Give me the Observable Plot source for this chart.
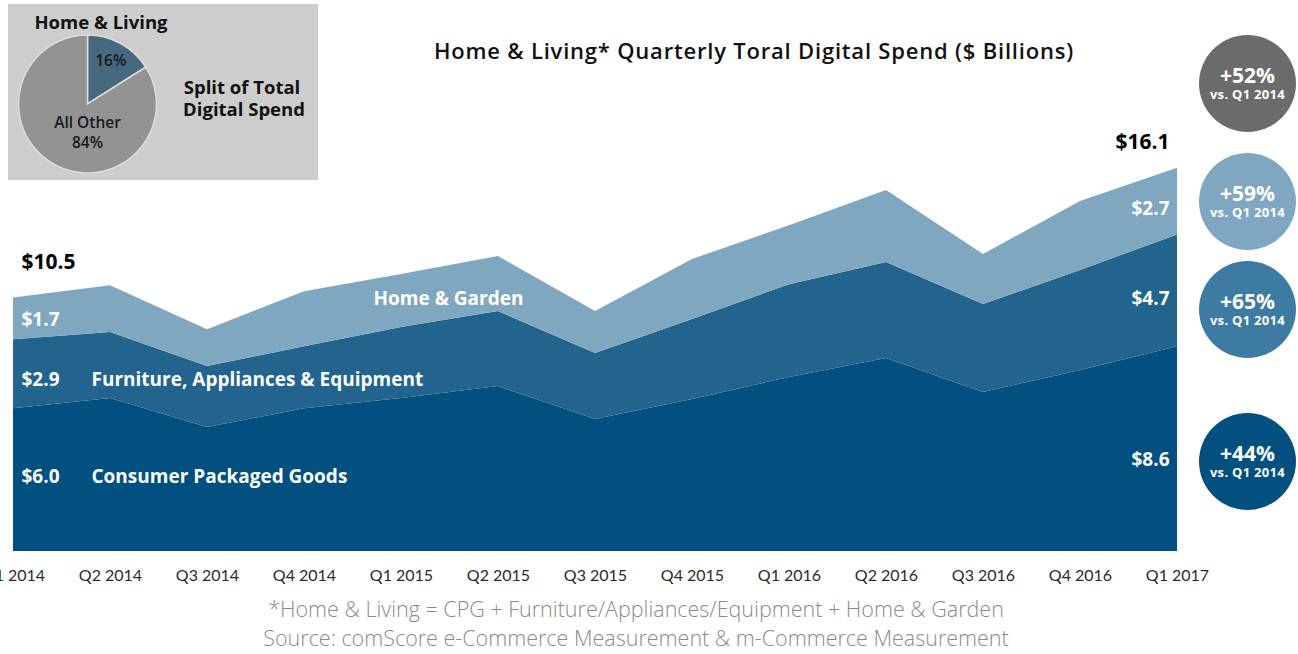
<!DOCTYPE html>
<html>
<head>
<meta charset="utf-8">
<script src="https://cdn.jsdelivr.net/npm/d3@7"></script>
<script src="https://cdn.jsdelivr.net/npm/@observablehq/plot@0.6"></script>
<style>
  body { margin: 0; background: #fff; font-family: Lato, "Open Sans", sans-serif; }
  #wrap { position: relative; width: 1298px; height: 654px; overflow: hidden; }
  #chart { position: absolute; left: 0; top: 0; }
  #inset { position: absolute; left: 8px; top: 4px; width: 310px; height: 176px; background: #cdcdcd; }
  #title { position: absolute; left: 304px; width: 900px; top: 35px; text-align: center;
           font: 600 22px/30px "Open Sans", sans-serif; letter-spacing: 0.8px; color: #111; }
  #foot { position: absolute; left: 186px; width: 900px; top: 594px; text-align: center;
          font: 300 21.5px/29px "Open Sans", sans-serif; color: #8a8a8a; }
  .bubble { position: absolute; width: 97px; height: 97px; border-radius: 50%; color: #fff;
            text-align: center; font-family: "Open Sans", sans-serif; font-weight: 700; }
  .bubble .pct { position: absolute; left: 0; right: 0; top: 30px; font-size: 21px; line-height: 21px; }
  .bubble .vs { position: absolute; left: 0; right: 0; top: 53px; font-size: 13px; line-height: 13px; letter-spacing: 0.3px; }
</style>
</head>
<body>
<div id="wrap">
  <div id="chart"></div>
  <div id="inset"></div>
  <div id="title"></div>
  <div id="foot"></div>
  <div id="bubbles"></div>
</div>
<script>
// ---------- data ----------
const quarters = ["Q1 2014","Q2 2014","Q3 2014","Q4 2014","Q1 2015","Q2 2015","Q3 2015",
                  "Q4 2015","Q1 2016","Q2 2016","Q3 2016","Q4 2016","Q1 2017"];
const series = ["Consumer Packaged Goods", "Furniture, Appliances & Equipment", "Home & Garden"];
const cpg        = [6.0, 6.43, 5.21, 6.0, 6.43, 6.93, 5.55, 6.39, 7.31, 8.11, 6.68, 7.61, 8.6];
const furniture  = [2.9, 2.77, 2.56, 2.6, 2.98, 3.15, 2.77, 3.36, 3.9, 4.03, 3.7, 4.2, 4.7];
const homeGarden = [1.75, 1.97, 1.55, 2.31, 2.23, 2.31, 1.76, 2.52, 2.48, 3.03, 2.1, 2.9, 2.8];
const colors = ["#01507f", "#22648d", "#7fa7c0"];
const startLabels = ["$6.0", "$2.9", "$1.7"];
const endLabels = ["$8.6", "$4.7", "$2.7"];
const totalLabels = ["$10.5", "$16.1"];
const growth = ["+52%", "+59%", "+65%", "+44%"];
const growthColors = ["#6b6b6b", "#7fa7c1", "#3e7ba2", "#01507f"];
const pieLabels = ["16%", "All Other"];
const pieValues = [16, 84];
const pieColors = ["#47697f", "#939393"];
const titleText = "Home & Living* Quarterly Toral Digital Spend ($ Billions)";
const footLines = ["*Home & Living = CPG + Furniture/Appliances/Equipment + Home & Garden",
                   "Source: comScore e-Commerce Measurement & m-Commerce Measurement"];

// ---------- table ----------
const values = [cpg, furniture, homeGarden];
const rows = [];
series.forEach((s, i) => quarters.forEach((q, j) => rows.push({quarter: q, series: s, value: values[i][j]})));
// stacked positions for labels
const stacked = quarters.map((q, j) => {
  let acc = 0;
  return series.map((s, i) => { const y1 = acc; acc += values[i][j]; return {quarter: q, series: s, y1, y2: acc, mid: (y1 + acc) / 2}; });
});
const first = stacked[0], last = stacked[stacked.length - 1];

const font = "Lato, sans-serif";
const bold = "'Open Sans', sans-serif";
const leftDy = [-3, 6, 1];
const rightDy = [11, 8, 7];
const lbl = {fill: "white", fontSize: 19, fontWeight: 700, fontFamily: bold};

const marks = [
  Plot.areaY(rows, {x: "quarter", y: "value", z: "series", fill: "series", order: null}),
  Plot.axisX({tickSize: 0, tickPadding: 18, fontSize: 16, label: null, fontFamily: font}),
];
series.forEach((s, i) => {
  marks.push(Plot.text([first[i]], {x: "quarter", y: "mid", text: () => startLabels[i], dx: 8, dy: leftDy[i],
    textAnchor: "start", ...lbl}));
  marks.push(Plot.text([last[i]], {x: "quarter", y: "mid", text: () => endLabels[i], dx: -8, dy: rightDy[i],
    textAnchor: "end", ...lbl}));
});
// series names
marks.push(Plot.text([first[0]], {x: "quarter", y: "mid", text: "series", dx: 78, dy: leftDy[0],
  textAnchor: "start", ...lbl}));
marks.push(Plot.text([first[1]], {x: "quarter", y: "mid", text: "series", dx: 78, dy: leftDy[1],
  textAnchor: "start", ...lbl}));
marks.push(Plot.text([stacked[4][2]], {x: "quarter", y: "mid", text: "series", dx: 47, dy: -2,
  textAnchor: "middle", ...lbl}));
// totals
marks.push(Plot.text([first[2]], {x: "quarter", y: "y2", text: () => totalLabels[0], dx: 8, dy: -36,
  textAnchor: "start", ...lbl, fill: "black", fontSize: 21}));
marks.push(Plot.text([last[2]], {x: "quarter", y: "y2", text: () => totalLabels[1], dx: -8, dy: -26,
  textAnchor: "end", ...lbl, fill: "black", fontSize: 21}));

const chart = Plot.plot({
  width: 1298, height: 595,
  marginLeft: 11, marginRight: 120, marginTop: 75, marginBottom: 44,
  x: {type: "point", domain: quarters, padding: 0},
  y: {domain: [0, 20], axis: null},
  color: {domain: series, range: colors},
  style: {fontFamily: font, fontSize: "16px", color: "#2a2a2a", background: "transparent", overflow: "visible"},
  marks
});
document.getElementById("chart").append(chart);

// ---------- pie inset ----------
const pieData = pieValues.map((v, i) => ({label: pieLabels[i], value: v, color: pieColors[i]}));
const pieMark = () => {
  const g = d3.create("svg:g").attr("font-family", "'Open Sans', sans-serif");
  const cx = 79.5, cy = 100, r = 69;
  const arcs = d3.pie().sort(null).value(d => d.value)(pieData);
  const arc = d3.arc().innerRadius(0).outerRadius(r);
  const pg = g.append("g").attr("transform", `translate(${cx},${cy})`);
  pg.selectAll("path").data(arcs).join("path")
    .attr("d", arc).attr("fill", d => d.data.color).attr("stroke", "#dedede").attr("stroke-width", 1.5);
  const lab = d3.arc().innerRadius(r * 0.7).outerRadius(r * 0.7);
  const c0 = lab.centroid(arcs[0]);
  const small = (x, y, t) => pg.append("text").attr("x", x).attr("y", y).attr("dy", "0.35em")
    .attr("text-anchor", "middle").attr("font-size", 15.5).attr("font-weight", 600).attr("fill", "#1a1a1a").text(t);
  small(c0[0], c0[1] - 1, pieLabels[0]);
  small(0, 19, pieLabels[1]);
  small(0, 39, pieValues[1] + "%");
  const big = (x, y, t) => g.append("text").attr("x", x).attr("y", y).attr("dy", "0.35em")
    .attr("text-anchor", "middle").attr("font-size", 18.5).attr("font-weight", 700).attr("fill", "#111").text(t);
  big(93, 19, "Home & Living");
  big(234, 84, "Split of Total");
  big(236, 106, "Digital Spend");
  return g.node();
};
const inset = Plot.plot({
  width: 310, height: 176, margin: 0,
  x: {axis: null}, y: {axis: null},
  style: {background: "transparent", overflow: "visible"},
  marks: [pieMark]
});
document.getElementById("inset").append(inset);

// ---------- title, footnote, bubbles ----------
document.getElementById("title").textContent = titleText;
const foot = document.getElementById("foot");
footLines.forEach(t => { const d = document.createElement("div"); d.textContent = t; foot.append(d); });
const bubbleTops = [35, 153, 261, 413];
const bb = document.getElementById("bubbles");
growth.forEach((g, i) => {
  const d = document.createElement("div");
  d.className = "bubble";
  d.style.left = "1199px";
  d.style.top = bubbleTops[i] + "px";
  d.style.background = growthColors[i];
  const p = document.createElement("div"); p.className = "pct"; p.textContent = g;
  const v = document.createElement("div"); v.className = "vs"; v.textContent = "vs. Q1 2014";
  d.append(p, v);
  bb.append(d);
});
</script>
</body>
</html>
